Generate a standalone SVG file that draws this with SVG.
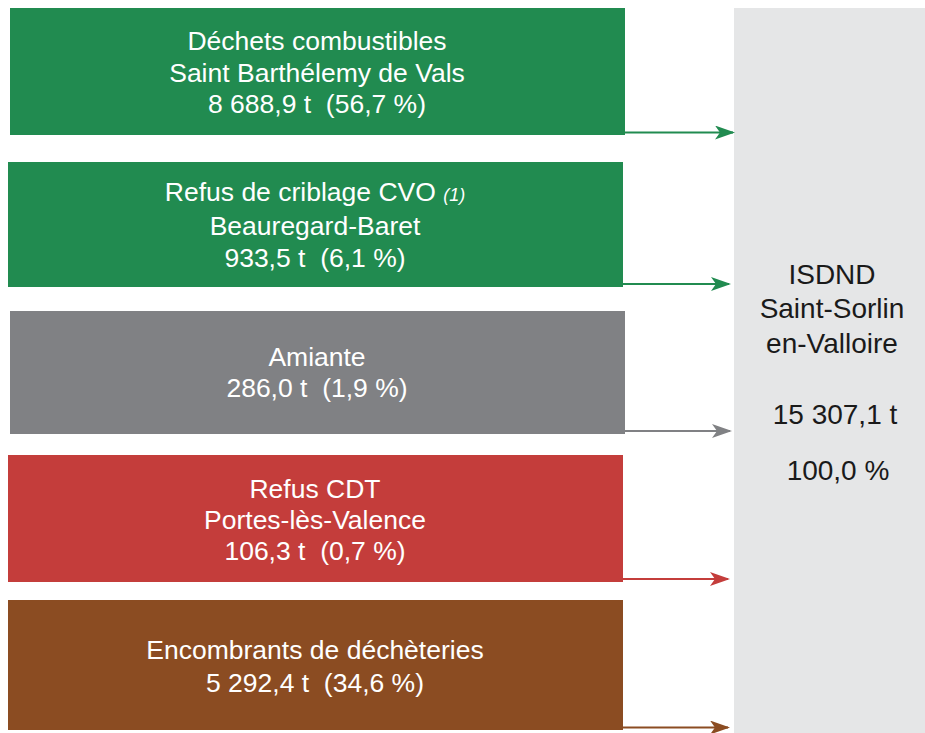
<svg xmlns="http://www.w3.org/2000/svg" width="925" height="733" viewBox="0 0 925 733">
<style>
.t{font-family:"Liberation Sans",Arial,sans-serif;font-size:26.5px;fill:#fff;text-anchor:middle;white-space:pre}
.r{font-family:"Liberation Sans",Arial,sans-serif;font-size:28px;fill:#1a1a1a;text-anchor:middle;white-space:pre}
.c{stroke-width:2.2;fill:none}
</style>
<defs>
<marker id="ag" viewBox="0 0 20 14" refX="18" refY="7" markerWidth="20" markerHeight="14" markerUnits="userSpaceOnUse" orient="auto"><path d="M0,0 L20,7 L0,14 L5,7 Z" fill="#218B50"/></marker>
<marker id="ay" viewBox="0 0 20 14" refX="18" refY="7" markerWidth="20" markerHeight="14" markerUnits="userSpaceOnUse" orient="auto"><path d="M0,0 L20,7 L0,14 L5,7 Z" fill="#808184"/></marker>
<marker id="ar" viewBox="0 0 20 14" refX="18" refY="7" markerWidth="20" markerHeight="14" markerUnits="userSpaceOnUse" orient="auto"><path d="M0,0 L20,7 L0,14 L5,7 Z" fill="#C43D3B"/></marker>
<marker id="ab" viewBox="0 0 20 14" refX="18" refY="7" markerWidth="20" markerHeight="14" markerUnits="userSpaceOnUse" orient="auto"><path d="M0,0 L20,7 L0,14 L5,7 Z" fill="#8B4C22"/></marker>
</defs>
<rect width="925" height="733" fill="#fff"/>
<g id="isdnd">
<rect x="734" y="8" width="191" height="725" fill="#E5E6E7"/>
<text class="r" x="832" y="284">ISDND</text>
<text class="r" x="832" y="318">Saint-Sorlin</text>
<text class="r" x="832" y="353">en-Valloire</text>
<text class="r" x="835" y="424">15 307,1 t</text>
<text class="r" x="838" y="480">100,0 %</text>
</g>
<g id="dechets">
<rect x="10" y="8" width="615" height="127" fill="#218B50"/>
<text class="t" x="317" y="50">Déchets combustibles</text>
<text class="t" x="317" y="82">Saint Barthélemy de Vals</text>
<text class="t" x="317" y="113">8 688,9 t  (56,7 %)</text>
</g>
<g id="refus-cvo">
<rect x="8" y="162" width="615" height="125" fill="#218B50"/>
<text class="t" x="315" y="201">Refus de criblage CVO <tspan font-style="italic" font-size="18px">(1)</tspan></text>
<text class="t" x="315" y="235">Beauregard-Baret</text>
<text class="t" x="315" y="267">933,5 t  (6,1 %)</text>
</g>
<g id="amiante">
<rect x="10" y="311" width="615" height="123" fill="#808184"/>
<text class="t" x="317" y="366">Amiante</text>
<text class="t" x="317" y="397">286,0 t  (1,9 %)</text>
</g>
<g id="refus-cdt">
<rect x="8" y="455" width="615" height="127" fill="#C43D3B"/>
<text class="t" x="315" y="498">Refus CDT</text>
<text class="t" x="315" y="529">Portes-lès-Valence</text>
<text class="t" x="315" y="560">106,3 t  (0,7 %)</text>
</g>
<g id="encombrants">
<rect x="8" y="600" width="615" height="130" fill="#8B4C22"/>
<text class="t" x="315" y="659">Encombrants de déchèteries</text>
<text class="t" x="315" y="692">5 292,4 t  (34,6 %)</text>
</g>
<g id="connectors">
<line class="c" x1="625" y1="132.5" x2="733" y2="132.5" stroke="#218B50" marker-end="url(#ag)"/>
<line class="c" x1="623" y1="284" x2="729" y2="284" stroke="#218B50" marker-end="url(#ag)"/>
<line class="c" x1="625" y1="431" x2="730" y2="431" stroke="#808184" marker-end="url(#ay)"/>
<line class="c" x1="623" y1="579" x2="728" y2="579" stroke="#C43D3B" marker-end="url(#ar)"/>
<line class="c" x1="623" y1="727.5" x2="728" y2="727.5" stroke="#8B4C22" marker-end="url(#ab)"/>
</g>
</svg>
